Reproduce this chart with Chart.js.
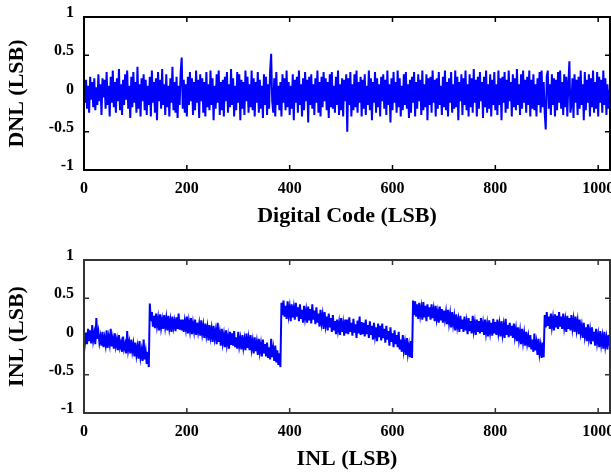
<!DOCTYPE html>
<html>
<head>
<meta charset="utf-8">
<script src="https://cdn.jsdelivr.net/npm/chart.js@4/dist/chart.umd.min.js"></script>
<style>
html,body{margin:0;padding:0;background:#fff;}
#wrap{position:relative;width:611px;height:473px;overflow:hidden;background:#fff;}
canvas{position:absolute;left:0;}
</style>
</head>
<body>
<div id="wrap">
<canvas id="c1" width="611" height="230" style="top:0;width:611px;height:230px"></canvas>
<canvas id="c2" width="611" height="230" style="top:243px;width:611px;height:230px"></canvas>
</div>
<script>
// Digital codes (every 2nd code sampled)
const codes = Array.from({length: 512}, (_, i) => i * 2);
const xTicks = [0, 200, 400, 600, 800, 1000];
const yTicks = [-1, -0.5, 0, 0.5, 1];

// DNL (LSB)
const dnl = [
.05,-.12,.18,-.2,.1,-.25,.22,-.08,.15,-.18,.2,-.22,.08,-.15,.25,-.1,
.12,-.28,.2,-.05,.18,-.2,.28,-.15,.1,-.3,.22,-.12,.3,-.18,.15,-.25,
.2,-.1,.32,-.22,.12,-.28,.18,-.15,.25,-.08,.3,-.2,.1,-.32,.22,-.18,
.28,-.12,.15,-.25,.35,-.2,.12,-.3,.2,-.1,.25,-.22,.18,-.28,.1,-.15,
.22,-.3,.3,-.12,.15,-.25,.2,-.35,.28,-.1,.18,-.2,.32,-.15,.12,-.28,
.25,-.18,.1,-.3,.2,-.12,.35,-.22,.15,-.25,.22,-.32,.1,-.15,.28,.47,
-.2,.18,-.25,.12,-.3,.22,-.15,.28,-.1,.2,-.28,.15,-.22,.3,-.12,.18,
-.32,.25,-.1,.2,-.25,.15,-.3,.28,-.18,.12,-.22,.3,-.15,.2,-.35,.1,
-.2,.25,-.12,.3,-.28,.15,-.22,.18,-.3,.22,-.1,.28,-.25,.12,-.18,.32,
-.15,.2,-.3,.1,-.22,.28,-.12,.25,-.35,.18,-.2,.15,-.28,.3,-.1,.22,
-.25,.12,-.18,.3,-.22,.2,-.3,.15,-.12,.28,-.25,.18,-.2,.1,-.32,.25,
-.15,.22,-.28,.12,-.2,.3,.52,-.1,-.25,.2,-.3,.28,-.15,.1,-.22,.15,
-.3,.25,-.12,.2,-.22,.3,-.18,.15,-.28,.1,-.2,.25,-.35,.18,-.12,.22,
-.25,.3,-.15,.12,-.3,.2,-.22,.28,-.1,.18,-.38,.22,-.15,.25,-.2,.12,
-.28,.2,-.12,.3,-.25,.15,-.3,.22,-.18,.28,-.1,.2,-.22,.15,-.32,.25,
-.18,.28,-.2,.1,-.25,.22,-.15,.3,-.28,.12,-.22,.2,-.3,.18,-.1,.25,
-.5,.2,-.15,.28,-.3,.12,-.22,.25,-.18,.3,-.25,.15,-.12,.22,-.3,.18,
-.2,.25,-.28,.1,-.15,.3,-.22,.2,-.35,.15,-.12,.28,-.25,.2,-.18,.12,
-.3,.22,-.1,.25,-.2,.18,-.28,.3,-.15,.12,-.38,.2,-.22,.28,-.12,.15,
-.25,.3,-.18,.2,-.3,.1,-.22,.25,-.15,.28,-.2,.12,-.32,.18,-.25,.22,
-.12,.28,-.3,.15,-.2,.25,-.1,.18,-.28,.3,-.22,.12,-.18,.25,-.35,.2,
-.15,.22,-.25,.3,-.12,.18,-.3,.2,-.2,.28,-.15,.1,-.28,.22,-.18,.3,
-.22,.15,-.3,.2,-.12,.28,-.25,.12,-.2,.3,-.18,.22,-.35,.15,-.1,.25,
-.28,.2,-.15,.3,-.22,.12,-.3,.25,-.18,.2,-.25,.32,-.12,.18,-.3,.22,
-.2,.28,-.1,.15,-.32,.22,-.18,.3,-.25,.12,-.2,.25,-.3,.18,-.15,.28,
-.22,.12,-.28,.3,-.15,.2,-.35,.22,-.12,.28,-.25,.18,-.2,.3,-.1,.15,
-.3,.25,-.18,.2,-.22,.32,-.15,.12,-.28,.25,-.2,.3,-.12,.18,-.25,.22,
-.15,.3,-.3,.18,-.2,.25,-.22,.12,-.3,.2,-.15,.28,-.25,.3,-.18,.15,
-.25,-.47,.22,.3,-.2,.12,-.28,.25,-.15,.2,-.3,.18,-.22,.28,-.12,.3,
-.2,.15,-.28,.25,-.18,.22,-.3,.12,.42,-.25,-.15,.2,-.32,.25,-.12,.18,
-.28,.22,-.2,.3,-.15,.12,-.35,.28,-.22,.18,-.12,.25,-.3,.2,-.18,.3,
-.25,.15,-.2,.28,-.3,.22,-.12,.18,-.25,.3,-.15,.2,-.28,.12,-.2,.05
];

// INL (LSB)
const inl = [
.02,-.08,.05,-.1,.1,-.06,.08,-.09,.15,-.05,.04,-.1,.24,-.03,.06,-.08,
.0,-.12,.06,-.14,-.02,-.11,.08,-.15,-.01,-.1,.1,-.13,-.03,-.16,.04,-.12,
-.04,-.18,.02,-.14,-.08,-.2,.0,-.16,-.1,-.22,.07,-.17,-.08,-.22,-.04,-.19,
-.1,-.26,-.08,-.24,-.14,-.29,-.06,-.27,-.18,-.32,-.04,-.3,-.2,-.36,-.2,-.4,
.43,.2,.32,.13,.27,.11,.3,.14,.24,.08,.29,.12,.22,.1,.28,.13,
.24,.08,.27,.11,.21,.06,.26,.12,.2,.07,.25,.1,.3,.09,.22,.08,
.22,.06,.2,.1,.26,.04,.19,.08,.24,.03,.17,.07,.22,.02,.18,.06,
.16,.01,.21,.04,.14,-.02,.17,.02,.12,-.05,.15,.0,.1,-.07,.14,-.02,
.07,-.1,.18,-.07,.04,-.12,.1,-.08,.02,-.14,.08,-.1,.0,-.16,.06,-.11,
.04,-.12,.07,-.14,-.01,-.16,.06,-.12,-.03,-.17,.02,-.14,-.04,-.18,.04,-.15,
-.03,-.18,.02,-.16,-.06,-.22,-.01,-.19,-.08,-.24,-.03,-.2,-.1,-.26,-.04,-.22,
-.1,-.26,-.08,-.28,-.14,-.3,-.03,-.27,-.16,-.32,-.12,-.34,-.18,-.37,-.22,-.4,
.44,.28,.47,.26,.4,.23,.46,.28,.38,.2,.42,.25,.37,.22,.44,.26,
.38,.2,.42,.23,.35,.18,.4,.24,.34,.18,.39,.21,.36,.17,.42,.22,
.34,.16,.38,.18,.3,.13,.35,.18,.28,.1,.32,.15,.26,.08,.3,.12,
.24,.06,.28,.08,.2,.03,.22,.08,.18,.02,.24,.06,.17,.01,.22,.04,
.22,.03,.25,.06,.18,.01,.23,.05,.16,-.02,.21,.04,.26,.02,.19,.03,
.18,.0,.22,.03,.15,-.02,.2,.02,.14,-.04,.18,.01,.12,-.06,.17,-.01,
.14,-.05,.17,-.02,.1,-.08,.14,-.04,.07,-.12,.12,-.07,.04,-.14,.08,-.1,
.02,-.14,.06,-.17,-.04,-.2,.02,-.18,-.08,-.24,-.02,-.22,-.12,-.27,-.06,-.28,
.47,.28,.46,.26,.42,.23,.44,.28,.38,.22,.45,.25,.4,.2,.42,.26,
.38,.22,.42,.24,.35,.2,.4,.23,.32,.18,.39,.21,.36,.18,.34,.22,
.32,.16,.35,.18,.29,.12,.32,.16,.26,.08,.29,.13,.22,.06,.27,.1,
.22,.06,.26,.08,.19,.03,.24,.07,.2,.04,.27,.08,.18,.02,.22,.06,
.2,.04,.24,.06,.17,.02,.22,.05,.16,.0,.21,.06,.18,.01,.23,.04,
.19,.02,.22,.05,.16,.0,.2,.03,.14,-.02,.23,.02,.15,-.01,.18,.01,
.14,-.02,.17,.0,.1,-.06,.12,-.04,.07,-.1,.1,-.07,.04,-.12,.06,-.09,
.0,-.14,.02,-.17,-.04,-.2,.04,-.18,-.08,-.24,-.03,-.22,-.12,-.28,-.08,-.27,
.28,.12,.32,.14,.26,.1,.3,.13,.24,.08,.29,.12,.27,.1,.32,.13,
.26,.1,.3,.12,.22,.06,.27,.1,.24,.08,.28,.11,.22,.06,.26,.09,
.2,.03,.22,.05,.14,-.02,.18,.01,.12,-.06,.16,-.02,.08,-.1,.12,-.06,
.06,-.12,.1,-.08,.02,-.14,.07,-.1,.0,-.16,.06,-.12,-.02,-.17,.02,-.12
];

const FONT = "'Liberation Serif','Times New Roman',serif";

const frameTicks = {
  id: 'frameTicks',
  beforeDatasetsDraw(chart) {
    const {ctx, chartArea: a, scales: {x, y}} = chart;
    const col = chart.options.plugins.frameTicks.color;
    ctx.save();
    ctx.strokeStyle = col;
    ctx.lineWidth = 1.5;
    ctx.beginPath();
    xTicks.forEach(v => {
      const px = x.getPixelForValue(v);
      ctx.moveTo(px, a.bottom); ctx.lineTo(px, a.bottom - 5);
      ctx.moveTo(px, a.top); ctx.lineTo(px, a.top + 5);
    });
    yTicks.forEach(v => {
      const py = y.getPixelForValue(v);
      ctx.moveTo(a.left, py); ctx.lineTo(a.left + 5, py);
      ctx.moveTo(a.right, py); ctx.lineTo(a.right - 5, py);
    });
    ctx.stroke();
    ctx.restore();
  },
  afterDatasetsDraw(chart) {
    const {ctx, chartArea: a} = chart;
    ctx.save();
    ctx.strokeStyle = chart.options.plugins.frameTicks.color;
    ctx.lineWidth = 2;
    ctx.strokeRect(a.left, a.top, a.right - a.left, a.bottom - a.top);
    ctx.restore();
  }
};

function makeChart(id, values, yTitle, xTitle, frameColor) {
  const pts = codes.map((c, i) => ({x: c, y: values[i]}));
  return new Chart(document.getElementById(id), {
    type: 'line',
    data: {
      datasets: [{
        data: pts,
        borderColor: '#0000ff',
        borderWidth: 2,
        pointRadius: 0,
        tension: 0,
        fill: false
      }]
    },
    options: {
      responsive: false,
      animation: false,
      devicePixelRatio: 1,
      layout: {padding: {left: 0, right: 1, top: 17, bottom: 0}},
      plugins: {
        legend: {display: false},
        tooltip: {enabled: false},
        frameTicks: {color: frameColor}
      },
      scales: {
        x: {
          type: 'linear', min: 0, max: 1023,
          grid: {display: false, drawTicks: false},
          border: {display: false},
          afterBuildTicks(s) { s.ticks = xTicks.map(v => ({value: v})); },
          ticks: {
            padding: 9, maxRotation: 0, autoSkip: false,
            callback: v => String(v),
            color: '#000', font: {family: FONT, size: 16, weight: 'bold'}
          },
          title: {
            display: true, text: xTitle, color: '#000',
            font: {family: FONT, size: 22, weight: 'bold'},
            padding: {top: 0, bottom: 0}
          },
          afterFit(s) { s.height = 60; s.paddingLeft = 0; s.paddingRight = 0; }
        },
        y: {
          min: -1, max: 1,
          grid: {display: false, drawTicks: false},
          border: {display: false},
          afterBuildTicks(s) { s.ticks = yTicks.map(v => ({value: v})); },
          ticks: {
            padding: 10, labelOffset: -4, autoSkip: false,
            callback: v => String(v),
            color: '#000', font: {family: FONT, size: 16, weight: 'bold'}
          },
          title: {
            display: true, text: yTitle, color: '#000',
            font: {family: FONT, size: 22, weight: 'bold'},
            padding: {top: 4, bottom: 0}
          },
          afterFit(s) { s.width = 84; s.paddingTop = 0; s.paddingBottom = 0; }
        }
      }
    },
    plugins: [frameTicks]
  });
}

makeChart('c1', dnl, 'DNL (LSB)', 'Digital Code (LSB)', '#000');
makeChart('c2', inl, 'INL (LSB)', 'INL (LSB)', '#333');
</script>
</body>
</html>
